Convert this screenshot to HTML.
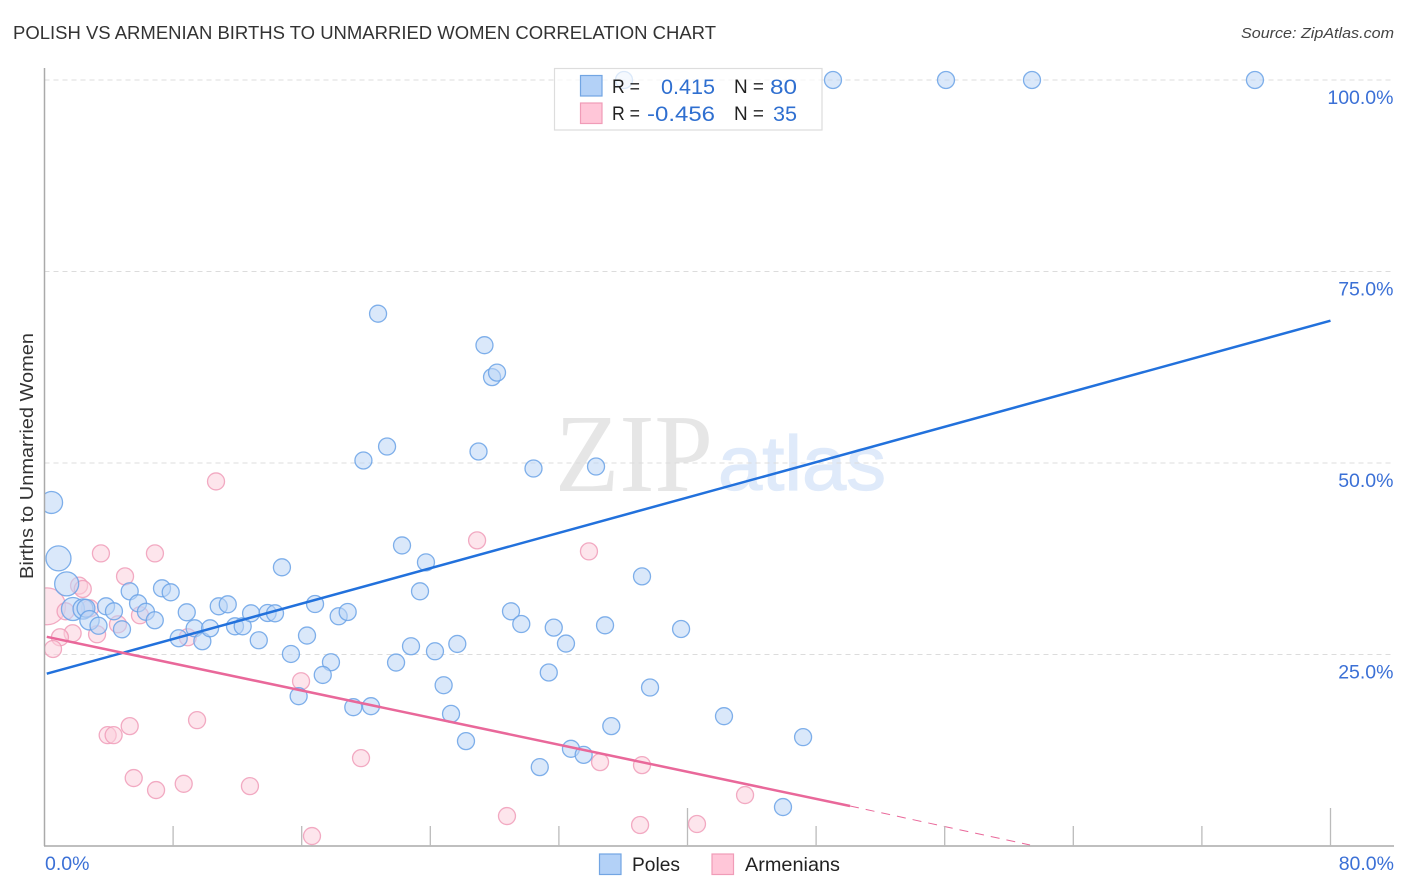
<!DOCTYPE html>
<html lang="en">
<head>
<meta charset="utf-8">
<title>Polish vs Armenian Births to Unmarried Women Correlation Chart</title>
<style>
html,body{margin:0;padding:0;background:#fff;}
body{width:1406px;height:892px;overflow:hidden;}
svg{display:block;font-family:"Liberation Sans",sans-serif;}
</style>
</head>
<body>
<svg id="chart" width="1406" height="892" viewBox="0 0 1406 892" xmlns="http://www.w3.org/2000/svg">
  <defs>
    <clipPath id="plot-clip" clipPathUnits="userSpaceOnUse"><rect x="44.5" y="60" width="1350" height="786"/></clipPath>
  </defs>
  <rect width="1406" height="892" fill="#fff"/>
  <text x="13" y="39" font-size="18.5" fill="#333" textLength="703" lengthAdjust="spacingAndGlyphs">POLISH VS ARMENIAN BIRTHS TO UNMARRIED WOMEN CORRELATION CHART</text>
  <text x="1241" y="38" font-size="15" font-style="italic" fill="#444" textLength="153" lengthAdjust="spacingAndGlyphs">Source: ZipAtlas.com</text>
  <g>
    <text x="555" y="491" font-family="'Liberation Serif',serif" font-size="111" fill="#e6e6e6" textLength="158" lengthAdjust="spacingAndGlyphs">ZIP</text>
    <text x="718" y="490" font-family="'Liberation Sans',sans-serif" font-size="77" fill="#dfeafa" stroke="#dfeafa" stroke-width="1.2" textLength="168" lengthAdjust="spacingAndGlyphs">atlas</text>
  </g>
  <g id="grid"></g>
  <g id="points" clip-path="url(#plot-clip)"></g>
  <rect x="0" y="60" width="44" height="786" fill="#fff"/>
  <g id="trends" clip-path="url(#plot-clip)"></g>
  <g id="axes"></g>
  <text transform="translate(33,579) rotate(-90)" font-size="18.5" fill="#333" textLength="246" lengthAdjust="spacingAndGlyphs">Births to Unmarried Women</text>
  <g>
    <rect x="554.5" y="68.5" width="267.5" height="61.5" fill="#fff" fill-opacity="0.72" stroke="#ddd" stroke-width="1.2"/>
    <rect x="580.5" y="75.5" width="21.5" height="20.5" fill="#b3d1f7" stroke="#72a5e3" stroke-width="1.2"/>
    <rect x="580.5" y="103" width="21.5" height="20.5" fill="#ffc6d8" stroke="#f09cb8" stroke-width="1.2"/>
    <g font-size="19" fill="#222">
      <text x="612" y="93" textLength="28" lengthAdjust="spacingAndGlyphs">R =</text>
      <text x="612" y="120" textLength="28" lengthAdjust="spacingAndGlyphs">R =</text>
      <text x="734" y="93" textLength="30" lengthAdjust="spacingAndGlyphs">N =</text>
      <text x="734" y="120" textLength="30" lengthAdjust="spacingAndGlyphs">N =</text>
    </g>
    <g font-size="21.5" fill="#2f6fd0">
      <text x="661" y="94" textLength="54" lengthAdjust="spacingAndGlyphs">0.415</text>
      <text x="647" y="121" textLength="68" lengthAdjust="spacingAndGlyphs">-0.456</text>
      <text x="770" y="94" textLength="27" lengthAdjust="spacingAndGlyphs">80</text>
      <text x="773" y="121" textLength="24" lengthAdjust="spacingAndGlyphs">35</text>
    </g>
  </g>
  <g>
    <g>
      <rect x="599.5" y="854" width="21.5" height="20.5" fill="#b3d1f7" stroke="#72a5e3" stroke-width="1.2"/>
      <text x="632" y="871" font-size="19.5" fill="#222" textLength="48" lengthAdjust="spacingAndGlyphs">Poles</text>
    </g>
    <g>
      <rect x="712" y="854" width="21.5" height="20.5" fill="#ffc6d8" stroke="#f09cb8" stroke-width="1.2"/>
      <text x="745" y="871" font-size="19.5" fill="#222" textLength="95" lengthAdjust="spacingAndGlyphs">Armenians</text>
    </g>
  </g>
</svg>
<script>
const yTickValues = [100, 75, 50, 25];
const yTickLabels = ["100.0%", "75.0%", "50.0%", "25.0%"];
const xTickValues = [8, 16, 24, 32, 40, 48, 56, 64, 72, 80];
const xMajorTicks = [40, 80];
const xEndValues = [0, 80];
const xEndLabels = ["0.0%", "80.0%"];

const polesX = [0.44,0.87,1.38,1.77,2.40,2.58,2.80,3.36,3.83,4.32,4.82,5.30,5.82,6.31,6.86,7.31,7.85,8.85,8.35,9.34,9.82,10.30,10.84,11.40,11.85,12.33,12.85,13.88,14.34,13.33,14.77,15.33,16.33,16.83,18.30,18.86,17.82,17.31,15.81,19.21,20.31,21.87,22.80,24.29,25.68,24.83,25.29,26.22,29.02,29.66,31.68,32.44,34.87,39.60,31.37,37.67,35.26,32.75,33.54,30.81,42.27,47.19,45.94,20.75,27.37,27.84,28.15,21.31,19.84,27.00,30.42,34.31,22.24,23.73,37.17,23.36,36.05,49.05,56.08,61.43,75.30];
const polesY = [44.85,37.55,34.22,30.94,30.94,31.03,29.47,28.75,31.29,30.64,28.29,33.25,31.68,30.57,29.47,33.64,33.12,30.51,27.12,28.42,26.73,28.42,31.29,31.55,28.68,28.68,30.38,30.42,30.38,26.86,36.38,25.07,27.47,31.59,29.99,30.55,23.99,22.33,19.56,18.12,18.25,23.95,26.08,25.42,26.38,20.99,17.25,13.69,30.64,28.98,28.51,26.43,28.81,28.33,22.65,20.69,15.65,12.69,11.90,10.30,16.95,14.21,5.08,69.49,65.38,61.21,61.80,52.15,50.33,51.50,49.28,49.54,39.24,37.03,35.20,33.25,100,100,100,100,100];
const polesWeight = [1.67,2.16,2.0,1.83,1.4,1.1,1.3,1,1,1,1,1,1,1,1,1,1,1,1,1,1,1,1,1,1,1,1,1,1,1,1,1,1,1,1,1,1,1,1,1,1,1,1,1,1,1,1,1,1,1,1,1,1,1,1,1,1,1,1,1,1,1,1,1,1,1,1,1,1,1,1,1,1,1,1,1,1,1,1,1,1];

const armeniansX = [0.16,10.67,3.51,6.87,26.91,33.87,5.01,1.31,2.83,2.15,2.38,5.94,4.57,3.27,1.75,0.96,0.53,8.91,15.96,5.30,9.49,3.93,4.30,5.55,6.94,8.66,12.78,16.64,19.69,28.77,37.05,40.59,43.58,34.56,37.17];
const armeniansY = [31.29,47.59,38.20,38.20,39.90,38.46,35.20,30.64,31.03,33.99,33.55,30.12,28.94,27.64,27.77,27.25,25.72,27.25,21.51,15.65,16.43,14.47,14.47,8.87,7.30,8.12,7.82,1.30,11.47,3.91,2.74,2.87,6.65,10.95,10.56];
const armeniansWeight = [4.7,1,1,1,1,1,1,1,1,1,1,1,1,1,1,1,1,1,1,1,1,1,1,1,1,1,1,1,1,1,1,1,1,1,1];

const polesTrendX = [0.14, 80];
const polesTrendY = [22.49, 68.58];
const armeniansTrendX = [0.14, 50.11];
const armeniansTrendY = [27.31, 5.22];
const armeniansDashX = [50.11, 61.31];
const armeniansDashY = [5.22, 0.13];

const NS = "http://www.w3.org/2000/svg";
function xScale(v) { return 44.5 + v * 16.075; }
function yScale(v) { return 846 - v * 7.66; }
function rScale(w) { return 8.5 * Math.sqrt(w); }

const gridGroup = document.getElementById("grid");
const axesGroup = document.getElementById("axes");
const pointsGroup = document.getElementById("points");
const trendsGroup = document.getElementById("trends");

function makeLine(x1, y1, x2, y2, stroke, width) {
  const l = document.createElementNS(NS, "line");
  l.setAttribute("x1", x1);
  l.setAttribute("y1", y1);
  l.setAttribute("x2", x2);
  l.setAttribute("y2", y2);
  l.setAttribute("stroke", stroke);
  l.setAttribute("stroke-width", width);
  return l;
}

yTickValues.forEach(function (v, i) {
  const g = makeLine(44.5, yScale(v), 1394, yScale(v), "#dcdcdc", 1);
  g.setAttribute("stroke-dasharray", "5 4");
  
  
  gridGroup.appendChild(g);
  const t = document.createElementNS(NS, "text");
  t.setAttribute("x", 1393.5);
  t.setAttribute("y", yScale(v) + 24);
  t.setAttribute("text-anchor", "end");
  t.setAttribute("font-size", "19.5");
  t.setAttribute("fill", "#3b70d6");
  
  
  t.textContent = yTickLabels[i];
  axesGroup.appendChild(t);
});

const yAxis = makeLine(44.5, 68, 44.5, 846, "#aaa", 1.5);


axesGroup.appendChild(yAxis);

const xAxis = makeLine(44, 846, 1394, 846, "#aaa", 1.5);


axesGroup.appendChild(xAxis);

xTickValues.forEach(function (v) {
  const major = xMajorTicks.indexOf(v) >= 0;
  const t = makeLine(xScale(v), major ? 808 : 826, xScale(v), 846, "#bbb", 1.3);
  
  
  axesGroup.appendChild(t);
});

xEndValues.forEach(function (v, i) {
  const t = document.createElementNS(NS, "text");
  t.setAttribute("x", v === 0 ? 45 : 1394);
  t.setAttribute("y", 870);
  t.setAttribute("text-anchor", v === 0 ? "start" : "end");
  t.setAttribute("font-size", "19.5");
  t.setAttribute("fill", "#3b70d6");
  
  
  t.textContent = xEndLabels[i];
  axesGroup.appendChild(t);
});

function drawSeries(xs, ys, ws, fill, stroke) {
  xs.forEach(function (x, i) {
    const c = document.createElementNS(NS, "circle");
    c.setAttribute("cx", xScale(x));
    c.setAttribute("cy", yScale(ys[i]));
    c.setAttribute("r", rScale(ws[i]));
    c.setAttribute("fill", fill);
    c.setAttribute("fill-opacity", "0.55");
    c.setAttribute("stroke", stroke);
    c.setAttribute("stroke-width", "1.3");
    c.setAttribute("stroke-opacity", "0.85");
    
    
    pointsGroup.appendChild(c);
  });
}
drawSeries(armeniansX, armeniansY, armeniansWeight, "#fbcfdd", "#f09cb8");
drawSeries(polesX, polesY, polesWeight, "#bcd6f6", "#6aa2e6");

function drawTrend(xs, ys, stroke, width, dash, name) {
  const l = makeLine(xScale(xs[0]), yScale(ys[0]), xScale(xs[1]), yScale(ys[1]), stroke, width);
  if (dash) l.setAttribute("stroke-dasharray", dash);
  
  
  trendsGroup.appendChild(l);
}
drawTrend(polesTrendX, polesTrendY, "#2271dc", 2.5, null, "trend-line-poles");
drawTrend(armeniansTrendX, armeniansTrendY, "#e9689a", 2.5, null, "trend-line-armenians");
drawTrend(armeniansDashX, armeniansDashY, "#e9689a", 1, "9 7", "trend-line-armenians-extrapolated");
</script>
</body>
</html>
